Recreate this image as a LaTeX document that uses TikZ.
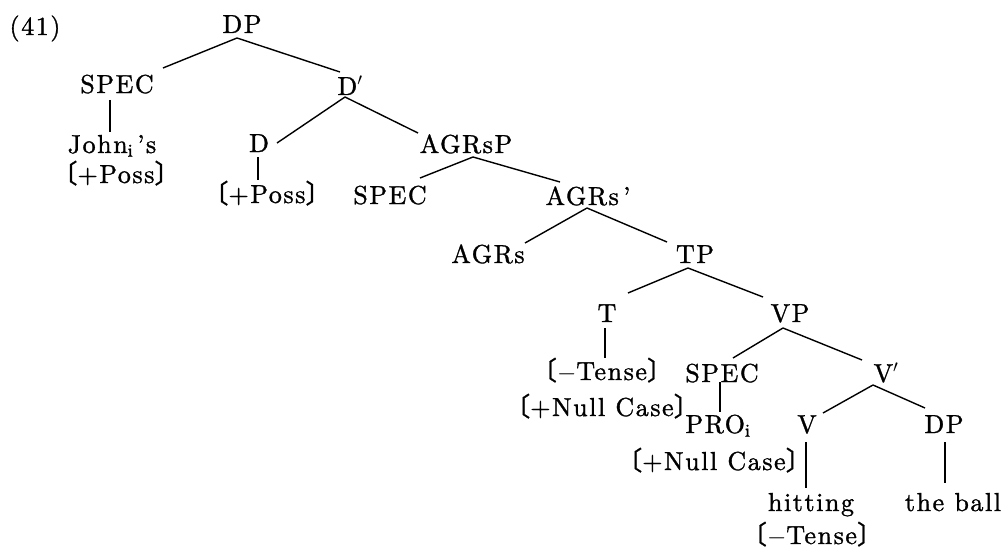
\documentclass[tikz,border=0pt]{standalone}
\usepackage{fontspec}
\setmainfont{lmroman10-regular.otf}[LetterSpace=6, FakeBold=1.2]
\newfontfamily\cjk[RawFeature=+halt, FakeBold=1]{Noto Sans CJK JP}
\newcommand\lbr{{\cjk 〔}}
\newcommand\rbr{{\cjk 〕}}
\tikzset{
  lab/.style={anchor=base, inner sep=0pt, font=\fontsize{26}{30}\selectfont},
  branch/.style={line width=1.4pt},
}
\begin{document}
\begin{tikzpicture}[x=1pt,y=1pt]
\useasboundingbox (0,0) rectangle (1005,-551);
% nodes
\node[lab] (ex)      at (35,-35)   {(41)};
\node[lab] (dp)      at (242,-33)  {DP};
\node[lab] (spec1)   at (117,-93)  {SPEC};
\node[lab] (dbar)    at (350,-95)  {D$'$};
\node[lab] (john)    at (112,-153) {John\textsubscript{i}\hspace{4pt}'s};
\node[lab] (poss1)   at (116,-183) {\lbr+Poss\rbr};
\node[lab] (d)       at (259,-152) {D};
\node[lab] (poss2)   at (267,-203) {\lbr+Poss\rbr};
\node[lab] (agrsp)   at (466,-153) {AGRsP};
\node[lab] (spec2)   at (390,-204) {SPEC};
\node[lab] (agrsbar) at (588,-205) {AGRs\,'};
\node[lab] (agrs)    at (488,-263) {AGRs};
\node[lab] (tp)      at (695,-263) {TP};
\node[lab] (t)       at (607,-322) {T};
\node[lab] (vp)      at (790,-322) {VP};
\node[lab] (tense1)  at (602,-380) {\lbr$-$Tense\rbr};
\node[lab] (spec3)   at (722,-382) {SPEC};
\node[lab] (vbar)    at (886,-382) {V$'$};
\node[lab] (null1)   at (602,-416) {\lbr+Null Case\rbr};
\node[lab] (pro)     at (718,-433) {PRO\textsubscript{i}};
\node[lab] (v)       at (807,-433) {V};
\node[lab] (dp2)     at (944,-433) {DP};
\node[lab] (null2)   at (714,-470) {\lbr+Null Case\rbr};
\node[lab] (hitting) at (811,-511) {hitting};
\node[lab] (ball)    at (953,-511) {the ball};
\node[lab] (tense2)  at (812,-544) {\lbr$-$Tense\rbr};
% branches
\draw[branch] ([shift={(-5,-5)}]dp.base) -- ([shift={(46,25)}]spec1.base);
\draw[branch] ([shift={(-5,-5)}]dp.base) -- ([shift={(-10,23)}]dbar.base);
\draw[branch] ([shift={(-7,-7)}]spec1.base) -- ([shift={(-2,21)}]john.base);
\draw[branch] ([shift={(-5,-2)}]dbar.base) -- ([shift={(18,9)}]d.base);
\draw[branch] ([shift={(-5,-2)}]dbar.base) -- ([shift={(-48,20)}]agrsp.base);
\draw[branch] ([shift={(-1,-5)}]d.base) -- ([shift={(-9,23)}]poss2.base);
\draw[branch] ([shift={(7,-4)}]agrsp.base) -- ([shift={(30,26)}]spec2.base);
\draw[branch] ([shift={(7,-4)}]agrsp.base) -- ([shift={(-28,23)}]agrsbar.base);
\draw[branch] ([shift={(-1,-3)}]agrsbar.base) -- ([shift={(37,20)}]agrs.base);
\draw[branch] ([shift={(-1,-3)}]agrsbar.base) -- ([shift={(-28,21)}]tp.base);
\draw[branch] ([shift={(-7,-5)}]tp.base) -- ([shift={(21,29)}]t.base);
\draw[branch] ([shift={(-7,-5)}]tp.base) -- ([shift={(-27,25)}]vp.base);
\draw[branch] ([shift={(-2,-6)}]t.base) -- ([shift={(3,22)}]tense1.base);
\draw[branch] ([shift={(-7,-6)}]vp.base) -- ([shift={(11,24)}]spec3.base);
\draw[branch] ([shift={(-7,-6)}]vp.base) -- ([shift={(-24,22)}]vbar.base);
\draw[branch] ([shift={(-2,0)}]spec3.base) -- ([shift={(2,21)}]pro.base);
\draw[branch] ([shift={(-13,-3)}]vbar.base) -- ([shift={(16,20)}]v.base);
\draw[branch] ([shift={(-13,-3)}]vbar.base) -- ([shift={(-19,25)}]dp2.base);
\draw[branch] ([shift={(-1,-9)}]v.base) -- ([shift={(-5,23)}]hitting.base);
\draw[branch] ([shift={(1,-9)}]dp2.base) -- ([shift={(-8,28)}]ball.base);
\end{tikzpicture}
\end{document}
